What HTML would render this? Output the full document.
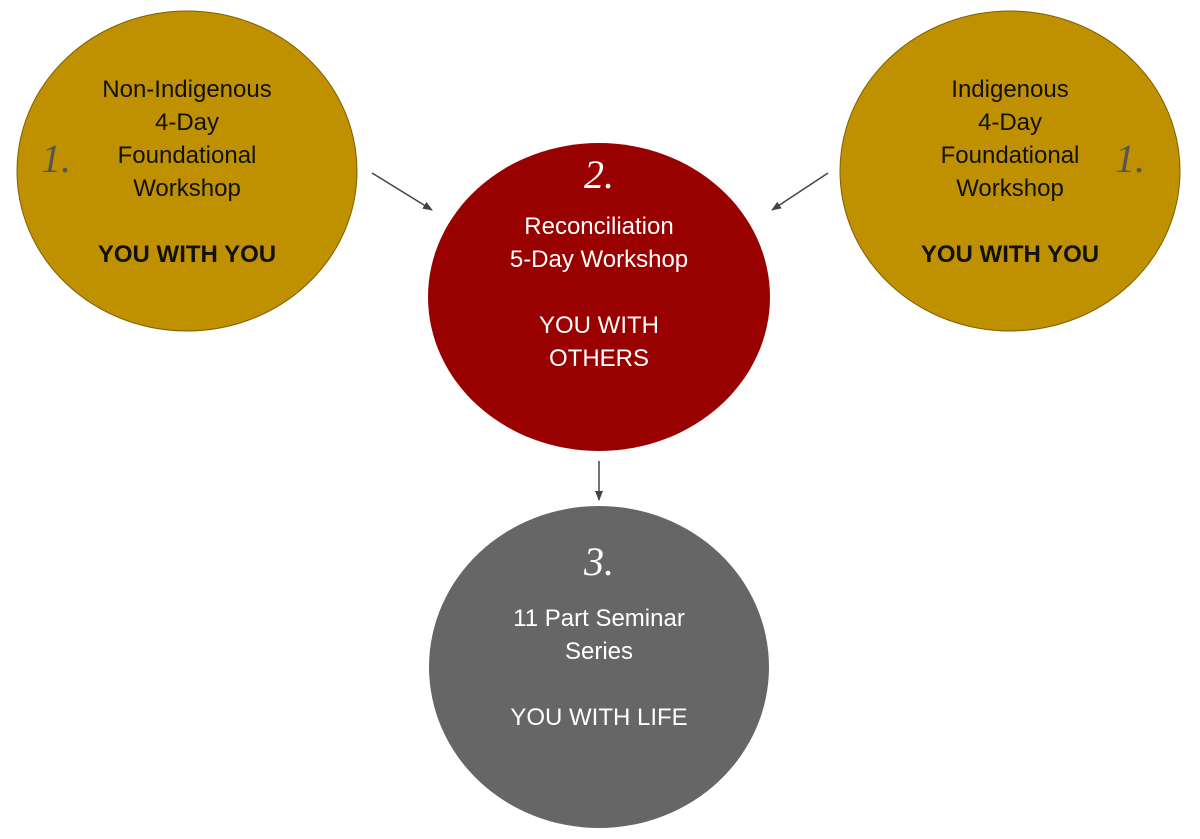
<!DOCTYPE html>
<html><head><style>body{margin:0;background:#fff}svg{display:block}
text{font-family:"Liberation Sans",sans-serif;font-size:24px;text-anchor:middle}
.n{font-family:"Liberation Serif",serif;font-style:italic;font-size:40px}
</style></head><body>
<svg width="1200" height="839" viewBox="0 0 1200 839">
<defs><marker id="a" markerWidth="10" markerHeight="10" refX="9" refY="5" orient="auto" markerUnits="userSpaceOnUse"><path d="M0,1 L10,5 L0,9 z" fill="#444"/></marker></defs>
<ellipse cx="187" cy="171" rx="170" ry="160" fill="#bf9000" stroke="#7f6000" stroke-width="1"/>
<ellipse cx="1010" cy="171" rx="170" ry="160" fill="#bf9000" stroke="#7f6000" stroke-width="1"/>
<ellipse cx="599" cy="297" rx="171" ry="154" fill="#990000"/>
<ellipse cx="599" cy="667" rx="170" ry="161" fill="#666"/>
<line x1="372" y1="173" x2="432" y2="210" stroke="#444" stroke-width="1.5" marker-end="url(#a)"/>
<line x1="828" y1="173" x2="772" y2="210" stroke="#444" stroke-width="1.5" marker-end="url(#a)"/>
<line x1="599" y1="461" x2="599" y2="500" stroke="#444" stroke-width="1.5" marker-end="url(#a)"/>
<g fill="#111">
<text x="187" y="97">Non-Indigenous</text><text x="187" y="130">4-Day</text><text x="187" y="163">Foundational</text><text x="187" y="196">Workshop</text>
<text x="187" y="262" font-weight="bold">YOU WITH YOU</text>
<text x="1010" y="97">Indigenous</text><text x="1010" y="130">4-Day</text><text x="1010" y="163">Foundational</text><text x="1010" y="196">Workshop</text>
<text x="1010" y="262" font-weight="bold">YOU WITH YOU</text>
</g>
<text class="n" x="56" y="172" fill="#555">1.</text>
<text class="n" x="1130" y="172" fill="#555">1.</text>
<g fill="#fff">
<text class="n" x="599" y="188">2.</text>
<text x="599" y="234">Reconciliation</text><text x="599" y="267">5-Day Workshop</text>
<text x="599" y="333">YOU WITH</text><text x="599" y="366">OTHERS</text>
<text class="n" x="599" y="575">3.</text>
<text x="599" y="626">11 Part Seminar</text><text x="599" y="659">Series</text>
<text x="599" y="725">YOU WITH LIFE</text>
</g>
</svg></body></html>
